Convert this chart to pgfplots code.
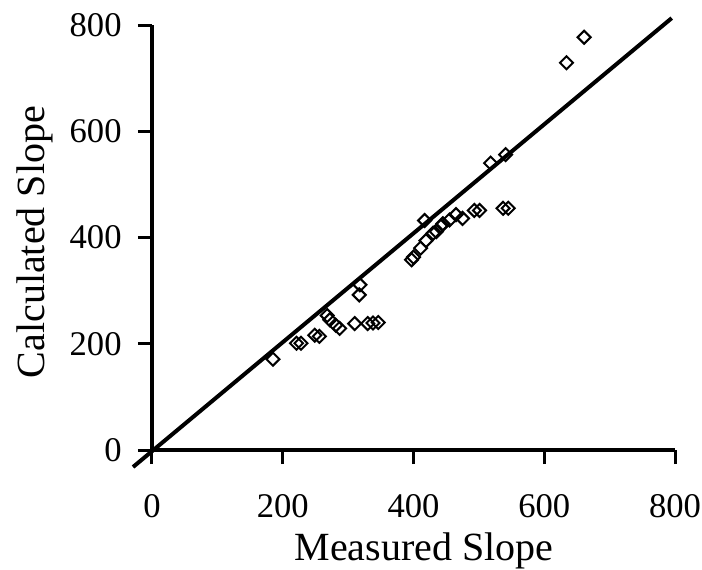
\documentclass[border=0pt]{standalone}
\usepackage{fontspec}
\setmainfont{Liberation Serif}
\usepackage{pgfplots}
\pgfplotsset{compat=1.18}

% measured vs. calculated slope for each run
\pgfplotstableread{
meas calc
185 171
221 201
228 201
249 216
256 214
268 253
272 245
281 235
287 229
310 238
330 238
338 239
346 240
318 311
317 292
397 358
400 363
411 380
419 394
430 408
435 411
442 421
445 426
455 433
465 443
475 436
417 432
493 451
501 451
537 455
545 455
518 540
541 556
634 729
661 777
}\slopedata

\begin{document}
\begin{tikzpicture}
\useasboundingbox (-76pt,-59.5pt) rectangle (275pt,225pt);
\begin{axis}[
  at={(0pt,0pt)}, anchor=south west,
  scale only axis, width=261.5pt, height=212.5pt,
  xmin=0, xmax=800, ymin=0, ymax=800,
  axis x line*=bottom, axis y line*=left,
  axis line style={-, line width=1.6pt, black},
  xtick={0,200,...,800}, ytick={0,200,...,800},
  xtick pos=bottom, ytick pos=left,
  tick align=outside,
  major tick length=7pt,
  tick style={draw=black, line width=1.5pt},
  clip=false,
  /pgf/number format/assume math mode=true,
  ticklabel style={font=\fontsize{17.3}{20}\selectfont, inner sep=0pt},
  xticklabel style={anchor=center},
  xticklabel shift=21pt,
  yticklabel style={anchor=east},
  yticklabel shift=8pt,
  label style={font=\fontsize{20}{24}\selectfont},
  xlabel={Measured Slope},
  ylabel={Calculated Slope},
  xlabel style={at={(axis description cs:0.52,-0.2610)}, anchor=base},
  ylabel style={at={(axis description cs:-0.2237,0.489)}, anchor=center},
]
  % outward tick strokes on both axes
  \pgfplotsinvokeforeach{0,200,400,600,800}{
    \draw[black, line width=1.5pt] (axis cs:#1,0) -- ++(0pt,-7pt);
    \draw[black, line width=1.5pt] (axis cs:0,#1) -- ++(-7pt,0pt);
  }
  % line of equality
  \addplot[black, line width=2pt] coordinates {(-29,-32) (795,813)};
  \addplot[only marks, mark=square, mark size=2.3pt,
           mark options={rotate=45, line width=1pt, black, fill=white}]
    table[x=meas, y=calc] {\slopedata};
\end{axis}
\end{tikzpicture}
\end{document}
